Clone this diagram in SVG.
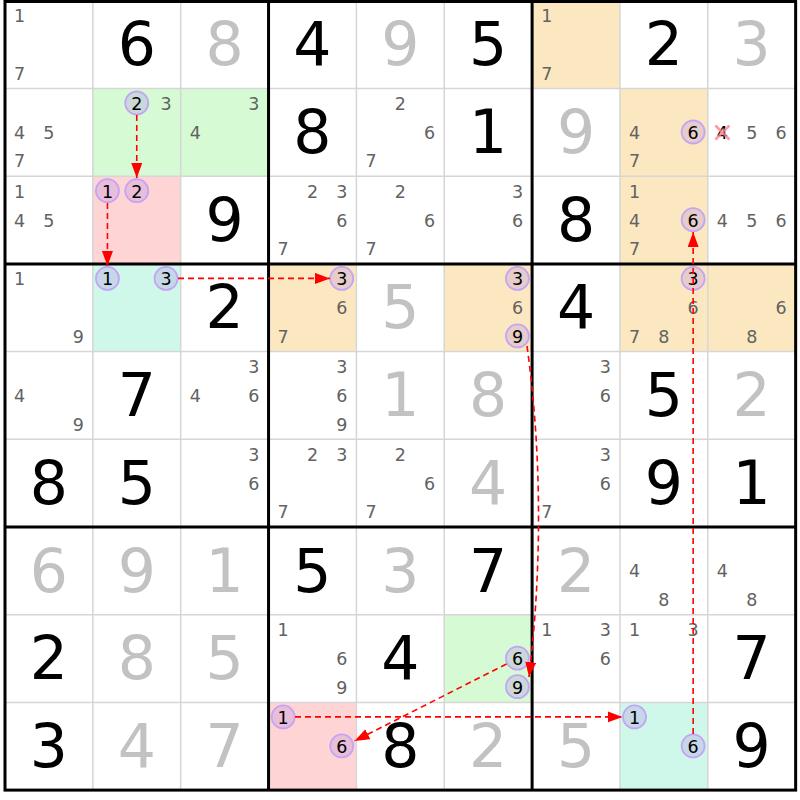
<svg xmlns="http://www.w3.org/2000/svg" width="800" height="800" viewBox="0 0 800 800">
<defs>
<style>
text{font-family:"DejaVu Sans","Liberation Sans",sans-serif;text-anchor:middle}
.c{font-size:17.5px;fill:#626262}
.k{font-size:17.5px;fill:#000}
.g{font-size:60px;fill:#000}
.s{font-size:60px;fill:#c2c2c2}
.hc{fill:#b48ce6;fill-opacity:0.3;stroke:#c4a4f4;stroke-width:1.8}
.or{fill:#fce8c0}.gr{fill:#d6fad4}.rd{fill:#ffd4d4}.tl{fill:#cff8ea}
.thin{stroke:#d6d6d6;stroke-width:1.5}
.thick{stroke:#000;stroke-width:3}
.lk{fill:none;stroke:#ff0000;stroke-width:1.6;stroke-dasharray:6,4}
</style>
<marker id="ah" markerUnits="userSpaceOnUse" markerWidth="16" markerHeight="12" refX="15" refY="5.5" orient="auto"><path d="M0,0 L15,5.5 L0,11 z" fill="#ff0000"/></marker>
</defs>
<rect x="0" y="0" width="800" height="800" fill="#fff"/>
<!-- Row 1 -->
<g id="r1c1"><text class="c" x="19.6" y="22.2">1</text><text class="c" x="19.6" y="79.7">7</text></g>
<g id="r1c2"><text class="g" x="136.75" y="65.3">6</text></g>
<g id="r1c3"><text class="s" x="224.6" y="65.3">8</text></g>
<g id="r1c4"><text class="g" x="312.45" y="65.3">4</text></g>
<g id="r1c5"><text class="s" x="400.3" y="65.3">9</text></g>
<g id="r1c6"><text class="g" x="488.15" y="65.3">5</text></g>
<g id="r1c7"><rect class="or" x="532.1" y="0.8" width="87.85" height="87.7"/><text class="c" x="546.7" y="22.2">1</text><text class="c" x="546.7" y="79.7">7</text></g>
<g id="r1c8"><text class="g" x="663.85" y="65.3">2</text></g>
<g id="r1c9"><text class="s" x="751.7" y="65.3">3</text></g>
<!-- Row 2 -->
<g id="r2c1"><text class="c" x="19.6" y="138.9">4</text><text class="c" x="48.9" y="138.9">5</text><text class="c" x="19.6" y="167.4">7</text></g>
<g id="r2c2"><rect class="gr" x="92.85" y="88.5" width="87.85" height="87.7"/><circle class="hc" cx="136.75" cy="103" r="11.5"/><text class="k" x="136.75" y="109.9">2</text><text class="c" x="166.05" y="109.9">3</text></g>
<g id="r2c3"><rect class="gr" x="180.7" y="88.5" width="87.85" height="87.7"/><text class="c" x="253.9" y="109.9">3</text><text class="c" x="195.3" y="138.9">4</text></g>
<g id="r2c4"><text class="g" x="312.45" y="153">8</text></g>
<g id="r2c5"><text class="c" x="400.3" y="109.9">2</text><text class="c" x="429.6" y="138.9">6</text><text class="c" x="371" y="167.4">7</text></g>
<g id="r2c6"><text class="g" x="488.15" y="153">1</text></g>
<g id="r2c7"><text class="s" x="576" y="153">9</text></g>
<g id="r2c8"><rect class="or" x="619.95" y="88.5" width="87.85" height="87.7"/><text class="c" x="634.55" y="138.9">4</text><circle class="hc" cx="693.15" cy="132" r="11.5"/><text class="k" x="693.15" y="138.9">6</text><text class="c" x="634.55" y="167.4">7</text></g>
<g id="r2c9"><text class="k" x="722.4" y="138.9">4</text><path d="M715.4,125.5 L729.4,139.5 M729.4,125.5 L715.4,139.5" stroke="#ff7f90" stroke-opacity="0.8" stroke-width="2.6"/><text class="c" x="751.7" y="138.9">5</text><text class="c" x="781" y="138.9">6</text></g>
<!-- Row 3 -->
<g id="r3c1"><text class="c" x="19.6" y="197.6">1</text><text class="c" x="19.6" y="226.6">4</text><text class="c" x="48.9" y="226.6">5</text></g>
<g id="r3c2"><rect class="rd" x="92.85" y="176.2" width="87.85" height="87.7"/><circle class="hc" cx="107.45" cy="190.7" r="11.5"/><text class="k" x="107.45" y="197.6">1</text><circle class="hc" cx="136.75" cy="190.7" r="11.5"/><text class="k" x="136.75" y="197.6">2</text></g>
<g id="r3c3"><text class="g" x="224.6" y="240.7">9</text></g>
<g id="r3c4"><text class="c" x="312.45" y="197.6">2</text><text class="c" x="341.75" y="197.6">3</text><text class="c" x="341.75" y="226.6">6</text><text class="c" x="283.15" y="255.1">7</text></g>
<g id="r3c5"><text class="c" x="400.3" y="197.6">2</text><text class="c" x="429.6" y="226.6">6</text><text class="c" x="371" y="255.1">7</text></g>
<g id="r3c6"><text class="c" x="517.45" y="197.6">3</text><text class="c" x="517.45" y="226.6">6</text></g>
<g id="r3c7"><text class="g" x="576" y="240.7">8</text></g>
<g id="r3c8"><rect class="or" x="619.95" y="176.2" width="87.85" height="87.7"/><text class="c" x="634.55" y="197.6">1</text><text class="c" x="634.55" y="226.6">4</text><circle class="hc" cx="693.15" cy="219.7" r="11.5"/><text class="k" x="693.15" y="226.6">6</text><text class="c" x="634.55" y="255.1">7</text></g>
<g id="r3c9"><text class="c" x="722.4" y="226.6">4</text><text class="c" x="751.7" y="226.6">5</text><text class="c" x="781" y="226.6">6</text></g>
<!-- Row 4 -->
<g id="r4c1"><text class="c" x="19.6" y="285.3">1</text><text class="c" x="78.2" y="342.8">9</text></g>
<g id="r4c2"><rect class="tl" x="92.85" y="263.9" width="87.85" height="87.7"/><circle class="hc" cx="107.45" cy="278.4" r="11.5"/><text class="k" x="107.45" y="285.3">1</text><circle class="hc" cx="166.05" cy="278.4" r="11.5"/><text class="k" x="166.05" y="285.3">3</text></g>
<g id="r4c3"><text class="g" x="224.6" y="328.4">2</text></g>
<g id="r4c4"><rect class="or" x="268.55" y="263.9" width="87.85" height="87.7"/><circle class="hc" cx="341.75" cy="278.4" r="11.5"/><text class="k" x="341.75" y="285.3">3</text><text class="c" x="341.75" y="314.3">6</text><text class="c" x="283.15" y="342.8">7</text></g>
<g id="r4c5"><text class="s" x="400.3" y="328.4">5</text></g>
<g id="r4c6"><rect class="or" x="444.25" y="263.9" width="87.85" height="87.7"/><circle class="hc" cx="517.45" cy="278.4" r="11.5"/><text class="k" x="517.45" y="285.3">3</text><text class="c" x="517.45" y="314.3">6</text><circle class="hc" cx="517.45" cy="335.9" r="11.5"/><text class="k" x="517.45" y="342.8">9</text></g>
<g id="r4c7"><text class="g" x="576" y="328.4">4</text></g>
<g id="r4c8"><rect class="or" x="619.95" y="263.9" width="87.85" height="87.7"/><circle class="hc" cx="693.15" cy="278.4" r="11.5"/><text class="k" x="693.15" y="285.3">3</text><text class="c" x="693.15" y="314.3">6</text><text class="c" x="634.55" y="342.8">7</text><text class="c" x="663.85" y="342.8">8</text></g>
<g id="r4c9"><rect class="or" x="707.8" y="263.9" width="87.85" height="87.7"/><text class="c" x="781" y="314.3">6</text><text class="c" x="751.7" y="342.8">8</text></g>
<!-- Row 5 -->
<g id="r5c1"><text class="c" x="19.6" y="402">4</text><text class="c" x="78.2" y="430.5">9</text></g>
<g id="r5c2"><text class="g" x="136.75" y="416.1">7</text></g>
<g id="r5c3"><text class="c" x="253.9" y="373">3</text><text class="c" x="195.3" y="402">4</text><text class="c" x="253.9" y="402">6</text></g>
<g id="r5c4"><text class="c" x="341.75" y="373">3</text><text class="c" x="341.75" y="402">6</text><text class="c" x="341.75" y="430.5">9</text></g>
<g id="r5c5"><text class="s" x="400.3" y="416.1">1</text></g>
<g id="r5c6"><text class="s" x="488.15" y="416.1">8</text></g>
<g id="r5c7"><text class="c" x="605.3" y="373">3</text><text class="c" x="605.3" y="402">6</text></g>
<g id="r5c8"><text class="g" x="663.85" y="416.1">5</text></g>
<g id="r5c9"><text class="s" x="751.7" y="416.1">2</text></g>
<!-- Row 6 -->
<g id="r6c1"><text class="g" x="48.9" y="503.8">8</text></g>
<g id="r6c2"><text class="g" x="136.75" y="503.8">5</text></g>
<g id="r6c3"><text class="c" x="253.9" y="460.7">3</text><text class="c" x="253.9" y="489.7">6</text></g>
<g id="r6c4"><text class="c" x="312.45" y="460.7">2</text><text class="c" x="341.75" y="460.7">3</text><text class="c" x="283.15" y="518.2">7</text></g>
<g id="r6c5"><text class="c" x="400.3" y="460.7">2</text><text class="c" x="429.6" y="489.7">6</text><text class="c" x="371" y="518.2">7</text></g>
<g id="r6c6"><text class="s" x="488.15" y="503.8">4</text></g>
<g id="r6c7"><text class="c" x="605.3" y="460.7">3</text><text class="c" x="605.3" y="489.7">6</text><text class="c" x="546.7" y="518.2">7</text></g>
<g id="r6c8"><text class="g" x="663.85" y="503.8">9</text></g>
<g id="r6c9"><text class="g" x="751.7" y="503.8">1</text></g>
<!-- Row 7 -->
<g id="r7c1"><text class="s" x="48.9" y="591.5">6</text></g>
<g id="r7c2"><text class="s" x="136.75" y="591.5">9</text></g>
<g id="r7c3"><text class="s" x="224.6" y="591.5">1</text></g>
<g id="r7c4"><text class="g" x="312.45" y="591.5">5</text></g>
<g id="r7c5"><text class="s" x="400.3" y="591.5">3</text></g>
<g id="r7c6"><text class="g" x="488.15" y="591.5">7</text></g>
<g id="r7c7"><text class="s" x="576" y="591.5">2</text></g>
<g id="r7c8"><text class="c" x="634.55" y="577.4">4</text><text class="c" x="663.85" y="605.9">8</text></g>
<g id="r7c9"><text class="c" x="722.4" y="577.4">4</text><text class="c" x="751.7" y="605.9">8</text></g>
<!-- Row 8 -->
<g id="r8c1"><text class="g" x="48.9" y="679.2">2</text></g>
<g id="r8c2"><text class="s" x="136.75" y="679.2">8</text></g>
<g id="r8c3"><text class="s" x="224.6" y="679.2">5</text></g>
<g id="r8c4"><text class="c" x="283.15" y="636.1">1</text><text class="c" x="341.75" y="665.1">6</text><text class="c" x="341.75" y="693.6">9</text></g>
<g id="r8c5"><text class="g" x="400.3" y="679.2">4</text></g>
<g id="r8c6"><rect class="gr" x="444.25" y="614.7" width="87.85" height="87.7"/><circle class="hc" cx="517.45" cy="658.2" r="11.5"/><text class="k" x="517.45" y="665.1">6</text><circle class="hc" cx="517.45" cy="686.7" r="11.5"/><text class="k" x="517.45" y="693.6">9</text></g>
<g id="r8c7"><text class="c" x="546.7" y="636.1">1</text><text class="c" x="605.3" y="636.1">3</text><text class="c" x="605.3" y="665.1">6</text></g>
<g id="r8c8"><text class="c" x="634.55" y="636.1">1</text><text class="c" x="693.15" y="636.1">3</text></g>
<g id="r8c9"><text class="g" x="751.7" y="679.2">7</text></g>
<!-- Row 9 -->
<g id="r9c1"><text class="g" x="48.9" y="766.9">3</text></g>
<g id="r9c2"><text class="s" x="136.75" y="766.9">4</text></g>
<g id="r9c3"><text class="s" x="224.6" y="766.9">7</text></g>
<g id="r9c4"><rect class="rd" x="268.55" y="702.4" width="87.85" height="87.7"/><circle class="hc" cx="283.15" cy="716.9" r="11.5"/><text class="k" x="283.15" y="723.8">1</text><circle class="hc" cx="341.75" cy="745.9" r="11.5"/><text class="k" x="341.75" y="752.8">6</text></g>
<g id="r9c5"><text class="g" x="400.3" y="766.9">8</text></g>
<g id="r9c6"><text class="s" x="488.15" y="766.9">2</text></g>
<g id="r9c7"><text class="s" x="576" y="766.9">5</text></g>
<g id="r9c8"><rect class="tl" x="619.95" y="702.4" width="87.85" height="87.7"/><circle class="hc" cx="634.55" cy="716.9" r="11.5"/><text class="k" x="634.55" y="723.8">1</text><circle class="hc" cx="693.15" cy="745.9" r="11.5"/><text class="k" x="693.15" y="752.8">6</text></g>
<g id="r9c9"><text class="g" x="751.7" y="766.9">9</text></g>
<!-- Grid -->
<g id="grid">
<path class="thin" d="M92.85,0.8V790.1 M180.7,0.8V790.1 M356.4,0.8V790.1 M444.25,0.8V790.1 M619.95,0.8V790.1 M707.8,0.8V790.1 M5,88.5H795.65 M5,176.2H795.65 M5,351.6H795.65 M5,439.3H795.65 M5,614.7H795.65 M5,702.4H795.65"/>
<path class="thick" d="M268.55,0.8V790.1 M532.1,0.8V790.1 M5,263.9H795.65 M5,527H795.65"/>
<rect x="5" y="1.5" width="790.65" height="788.6" fill="none" stroke="#000" stroke-width="3"/>
</g>
<!-- Connectors -->
<g id="connectors">
<path class="lk" d="M136.75,115 L136.75,178" marker-end="url(#ah)"/>
<path class="lk" d="M107.45,203 L107.45,266" marker-end="url(#ah)"/>
<path class="lk" d="M178,278.4 L330,278.4" marker-end="url(#ah)"/>
<path class="lk" d="M527,346 C542,455 542,567 529,677" marker-end="url(#ah)"/>
<path class="lk" d="M506.5,664 L354.5,741" marker-end="url(#ah)"/>
<path class="lk" d="M295,716.9 L622.5,716.9" marker-end="url(#ah)"/>
<path class="lk" d="M693.15,734 L693.15,232" marker-end="url(#ah)"/>
</g>
</svg>
